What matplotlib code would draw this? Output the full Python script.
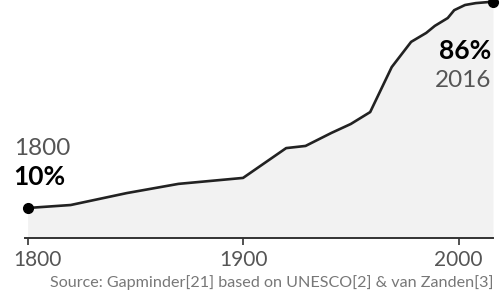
import matplotlib.pyplot as plt
import matplotlib.transforms as mtransforms

# literacy rate, world (%)
years = [1800, 1820, 1846, 1870, 1900, 1920, 1929, 1941, 1950, 1959,
         1969, 1978, 1985, 1989, 1995, 1998, 2003, 2008, 2014, 2016]
rates = [10, 11.1, 15.5, 18.9, 21.1, 32.1, 32.9, 37.7, 41, 45.4,
         62, 71.3, 74.6, 77.2, 80.1, 83, 84.9, 85.6, 86, 86]
tick_years = [1800, 1900, 2000]
source = "Source: Gapminder[21] based on UNESCO[2] & van Zanden[3]"

FONT = "Lato"
GREY = "#555555"

fig = plt.figure(figsize=(5.01, 2.97), dpi=100)
ax = fig.add_axes([25 / 501, 59 / 297, 468 / 501, 238 / 297])
ax.set_xlim(1798.8, 2016)
ax.set_ylim(-1.07, 86.75)

ax.fill_between(years, rates, -1.07, color="#f2f2f2", lw=0)
ax.plot(years, rates, color="#222222", lw=1.9, solid_joinstyle="round", clip_on=False)
ax.plot([years[0], years[-1]], [rates[0], rates[-1]], "o", color="black", ms=7, clip_on=False)

for s in ["left", "right", "top"]:
    ax.spines[s].set_visible(False)
ax.spines["bottom"].set_color("#333333")
ax.spines["bottom"].set_linewidth(1.4)
ax.set_yticks([])
ax.set_xticks(tick_years)
ax.set_xticklabels([str(y) for y in tick_years], fontfamily=FONT,
                   fontsize=15, color=GREY)
ax.tick_params(axis="x", length=5, width=1.2, color="#333333", pad=4)
# first label sits a bit to the right so it stays inside the picture
first = ax.get_xticklabels()[0]
first.set_transform(first.get_transform() + mtransforms.ScaledTranslation(10 / 100, 0, fig.dpi_scale_trans))

# start / end labels
ax.text(1793.5, 32, "1800", fontfamily=FONT, fontsize=17.5,
        color=GREY, ha="left", va="center")
ax.text(1793.5, 21.4, "10%", fontfamily=FONT, fontweight="bold", fontsize=19,
        color="black", ha="left", va="center")
ax.text(2015.3, 68, "86%", fontfamily=FONT, fontweight="bold", fontsize=19,
        color="black", ha="right", va="center")
ax.text(2015.3, 57, "2016", fontfamily=FONT, fontsize=17.5,
        color=GREY, ha="right", va="center")

fig.text(493 / 501, 14 / 297, source, fontfamily=FONT,
         fontsize=11.6, color="#777777", ha="right", va="center")

fig.savefig("out.png", dpi=100)
